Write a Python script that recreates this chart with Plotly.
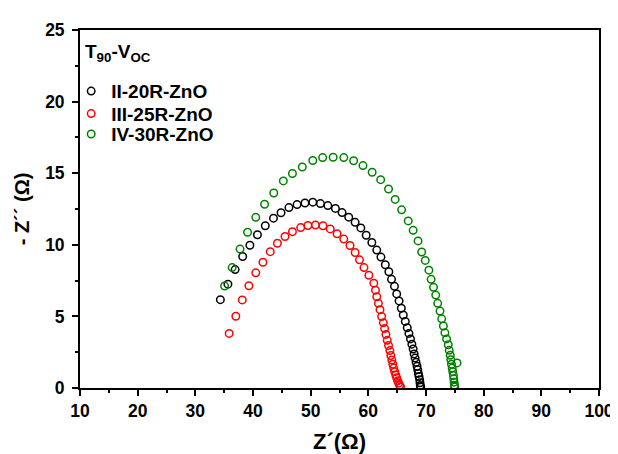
import plotly.graph_objects as go

# Series: II-20R-ZnO (black)
x_ii = [34.34, 35.65, 36.90, 38.21, 39.46, 40.77, 42.13, 43.55, 44.86, 46.23, 47.64, 49.01, 50.37,
        51.69, 52.98, 54.29, 55.44, 56.60, 57.71, 58.70, 59.63, 60.61, 61.46, 62.19, 62.94, 63.56,
        64.02, 64.53, 64.92, 65.33, 65.72, 66.06, 66.41, 66.75, 67.04, 67.31, 67.55, 67.77, 67.94,
        68.11, 68.28, 68.45, 68.57, 68.67, 68.79, 68.91, 68.96, 69.01, 69.08]
y_ii = [6.17, 7.25, 8.27, 9.18, 9.97, 10.70, 11.33, 11.86, 12.24, 12.60, 12.81, 12.92, 12.98,
        12.88, 12.74, 12.54, 12.25, 11.93, 11.57, 11.18, 10.67, 10.16, 9.63, 9.14, 8.61, 8.12,
        7.59, 7.10, 6.57, 6.08, 5.57, 5.10, 4.65, 4.21, 3.81, 3.43, 3.06, 2.72, 2.38,
        2.09, 1.79, 1.52, 1.27, 1.02, 0.80, 0.57, 0.37, 0.18, 0.07]

# Series: III-25R-ZnO (red)
x_iii = [35.87, 37.02, 38.14, 39.29, 40.48, 41.72, 42.99, 44.23, 45.55, 46.84, 48.27, 49.52, 50.83,
         52.13, 53.39, 54.58, 55.74, 56.82, 57.71, 58.47, 59.24, 60.09, 60.95, 61.24, 61.46, 61.75,
         62.02, 62.31, 62.60, 62.82, 63.05, 63.28, 63.50, 63.73, 63.90, 64.07, 64.24, 64.41, 64.58,
         64.75, 64.92, 65.09, 65.26, 65.43, 65.60]
y_iii = [3.81, 5.01, 6.15, 7.14, 8.04, 8.78, 9.52, 10.11, 10.58, 10.92, 11.20, 11.35, 11.38,
         11.33, 11.11, 10.77, 10.40, 9.95, 9.46, 8.95, 8.41, 7.87, 7.32, 6.83, 6.37, 5.91,
         5.47, 4.99, 4.55, 4.15, 3.74, 3.33, 2.97, 2.61, 2.27, 1.95, 1.66, 1.39, 1.14,
         0.91, 0.71, 0.50, 0.34, 0.18, 0.07]

# Series: IV-30R-ZnO (green)
x_iv = [35.07, 36.39, 37.75, 39.06, 40.48, 42.01, 43.60, 45.26, 46.84, 48.55, 50.37, 52.08, 53.90,
        55.74, 57.45, 59.07, 60.66, 62.14, 63.50, 64.65, 65.77, 66.92, 67.77, 68.62, 69.25, 69.87,
        70.50, 70.89, 71.30, 71.69, 72.03, 72.43, 72.72, 73.01, 73.28, 73.57, 73.86, 74.03, 74.20,
        74.30, 74.42, 74.54, 74.64, 74.76, 74.81, 74.88, 74.93, 74.98, 75.39]
y_iv = [7.12, 8.41, 9.70, 10.88, 11.92, 12.83, 13.62, 14.46, 14.98, 15.43, 15.89, 16.09, 16.11,
        16.09, 15.87, 15.53, 15.07, 14.55, 13.90, 13.17, 12.44, 11.67, 11.01, 10.27, 9.50, 8.91,
        8.23, 7.59, 7.03, 6.49, 5.91, 5.37, 4.83, 4.33, 3.85, 3.43, 3.02, 2.63, 2.29,
        1.97, 1.66, 1.39, 1.14, 0.88, 0.64, 0.41, 0.20, 0.07, 1.75]

series_names = ["II-20R-ZnO", "III-25R-ZnO", "IV-30R-ZnO"]
series_colors = ["#000000", "#FF0000", "#008000"]
x_ticks = [10, 20, 30, 40, 50, 60, 70, 80, 90, 100]
y_ticks = [0, 5, 10, 15, 20, 25]

FONT = "Liberation Sans, Arial, sans-serif"

legend_ids = ["legend", "legend2", "legend3"]
legend_rows_y = [0.829, 0.766, 0.709]  # paper y of each legend row

fig = go.Figure()
for xs, ys, name, col, lid in zip([x_ii, x_iii, x_iv], [y_ii, y_iii, y_iv],
                                  series_names, series_colors, legend_ids):
    fig.add_trace(go.Scatter(
        x=xs, y=ys, mode="markers", name=name, legend=lid,
        marker=dict(symbol="circle-open", size=7.5, color=col, line=dict(width=1.5, color=col)),
    ))

axis_common = dict(
    showgrid=False, zeroline=False, showline=True, linecolor="black", linewidth=1.8,
    mirror=True, ticks="outside", ticklen=6, tickwidth=1.8, tickcolor="black",
    tickfont=dict(family=FONT, size=17.5, color="black", weight="bold"),
)

fig.update_xaxes(
    range=[10, 100], tickvals=x_ticks, ticktext=[str(v) for v in x_ticks],
    minor=dict(dtick=5, ticks="outside", ticklen=3, tickwidth=1.5, tickcolor="black"),
    title=dict(text="<b>Z´(Ω)</b>",
               font=dict(family=FONT, size=22, color="black"), standoff=14),
    **axis_common,
)
fig.update_yaxes(
    range=[0, 25], tickvals=y_ticks, ticktext=[str(v) for v in y_ticks],
    minor=dict(dtick=2.5, ticks="outside", ticklen=3, tickwidth=1.5, tickcolor="black"),
    title=dict(text="<b>- Z´´ (Ω)</b>",
               font=dict(family=FONT, size=20, color="black"), standoff=10),
    ticklabelstandoff=4,
    **axis_common,
)

fig.add_annotation(
    x=0.005, y=0.935, xref="paper", yref="paper", xanchor="left", yanchor="middle",
    text="<b>T<sub>90</sub>-V<sub>OC</sub></b>", showarrow=False,
    font=dict(family=FONT, size=19, color="black"),
)

legend_style = dict(x=-0.017, xanchor="left", yanchor="middle", bgcolor="rgba(0,0,0,0)",
                    font=dict(family=FONT, size=19, color="black", weight="bold"),
                    itemsizing="trace")
fig.update_layout(
    width=618, height=454,
    margin=dict(l=72, r=18, t=20, b=66),
    paper_bgcolor="white", plot_bgcolor="white",
    showlegend=True,
    legend=dict(y=legend_rows_y[0], **legend_style),
    legend2=dict(y=legend_rows_y[1], **legend_style),
    legend3=dict(y=legend_rows_y[2], **legend_style),
)

fig.write_html("out.html")
